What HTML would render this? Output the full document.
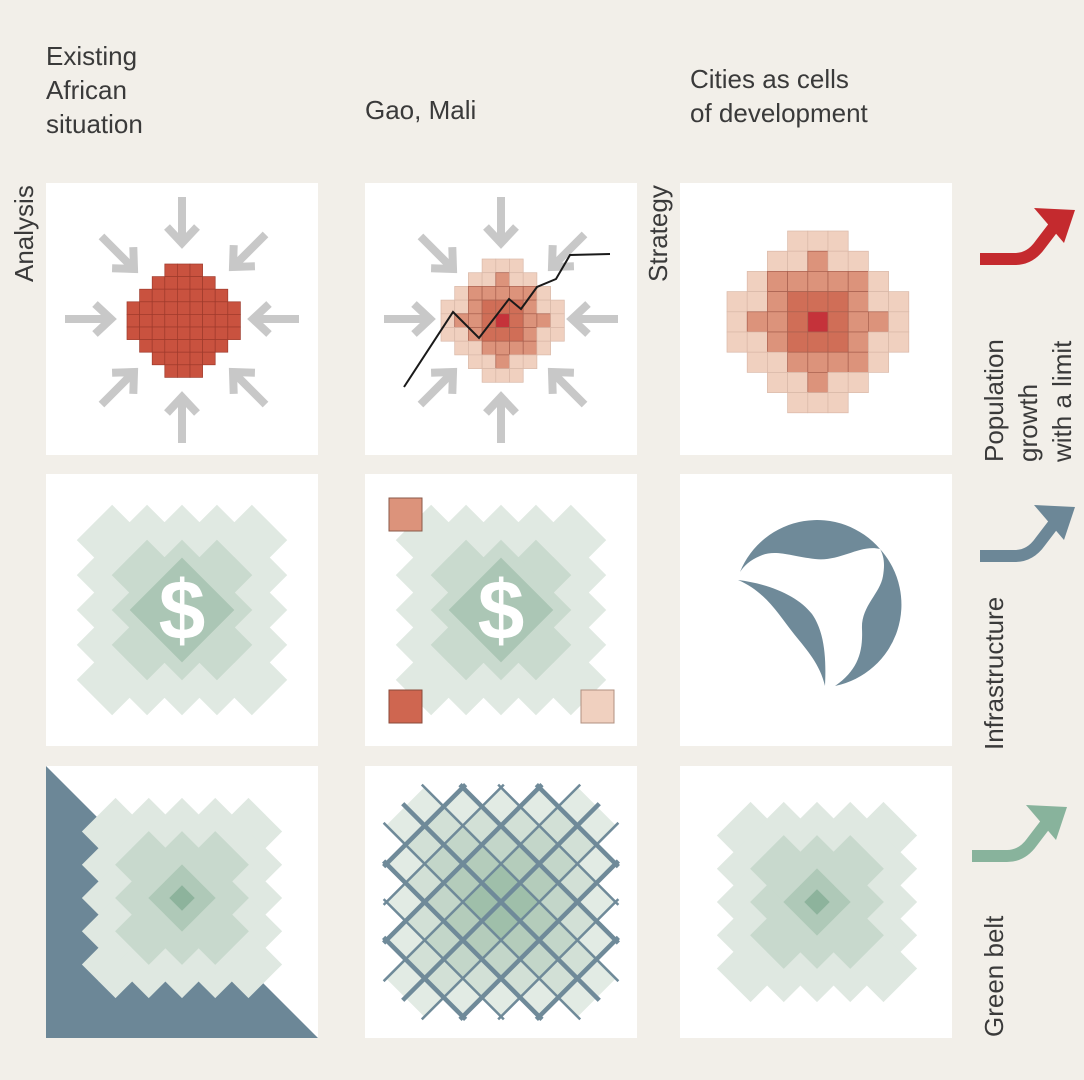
<!DOCTYPE html>
<html><head><meta charset="utf-8"><style>
html,body{margin:0;padding:0;background:#f2efe9;}
svg{display:block}
text{font-family:"Liberation Sans",sans-serif;fill:#3a3a3a;font-weight:300}
</style></head><body>
<svg id="s" width="1084" height="1080" viewBox="0 0 1084 1080" xmlns="http://www.w3.org/2000/svg">
<rect width="1084" height="1080" fill="#f2efe9"/>
<g font-size="26">
<text x="46" y="65">Existing</text>
<text x="46" y="99">African</text>
<text x="46" y="133">situation</text>
<text x="365" y="119">Gao, Mali</text>
<text x="690" y="88">Cities as cells</text>
<text x="690" y="122">of development</text>
<text transform="translate(33,282) rotate(-90)">Analysis</text>
<text transform="translate(667,282) rotate(-90)">Strategy</text>
<text transform="translate(1003,462) rotate(-90)">Population</text>
<text transform="translate(1037,462) rotate(-90)">growth</text>
<text transform="translate(1071,462) rotate(-90)">with a limit</text>
<text transform="translate(1003,750) rotate(-90)">Infrastructure</text>
<text transform="translate(1003,1037) rotate(-90)">Green belt</text>
</g>
<g fill="none" stroke-width="12">
<path d="M980,259 L1015,259 Q1030,259 1040,245 L1056,224" stroke="#c42a2e"/>
<path d="M1034,208 L1075,210 L1064,243 Z" fill="#c42a2e" stroke="none"/>
<path d="M980,556 L1015,556 Q1030,556 1040,542 L1056,521" stroke="#6c8797"/>
<path d="M1034,505 L1075,507 L1064,540 Z" fill="#6c8797" stroke="none"/>
<path d="M972,856 L1007,856 Q1022,856 1032,842 L1048,821" stroke="#88b39c"/>
<path d="M1026,805 L1067,807 L1056,840 Z" fill="#88b39c" stroke="none"/>
</g>
<g id="panels"></g>
</svg>
<script>
var NS="http://www.w3.org/2000/svg";
var P=document.getElementById('panels');
function el(t,a,p){var e=document.createElementNS(NS,t);for(var k in a)e.setAttribute(k,a[k]);(p||P).appendChild(e);return e;}
var px=[46,365,680], py=[183,474,766];
var G={};
for(var r=0;r<3;r++)for(var c=0;c<3;c++){
  el('rect',{x:px[c],y:py[r],width:272,height:272,fill:'#fff'});
  G[r+''+c]=el('g',{transform:'translate('+px[c]+','+py[r]+')'});
}
function arrows(g){
  var A=[[136,60,90],[136,214,-90],[65,136,0],[207,136,180],[88,86,45],[187,84,135],[88,189,-45],[187,189,-135]];
  A.forEach(function(a){el('path',{d:'M-46,0 L-2,0 M-16,-15 L0,0 L-16,15',stroke:'#c8c8c8','stroke-width':8,fill:'none',transform:'translate('+a[0]+','+a[1]+') rotate('+a[2]+')'},g);});
}
var rows=['...LLL...','..LLMLL..','.LMMMMML.','LLMDDDMLL','LMMDRDMML','LLMDDDMLL','.LLMMMML.','..LLMLL..','...LLL...'];
var col={L:'#f0d0bf',M:'#dc937b',D:'#d06e57',R:'#c5323a'};
function grid(g,x0,y0,s,mono){
  for(var i=0;i<9;i++)for(var j=0;j<9;j++){var ch=rows[i][j];if(ch=='.')continue;
    el('rect',{x:x0+j*s,y:y0+i*s,width:s,height:s,fill:mono?'#c9523f':col[ch],stroke:mono?'#9e3a2c':(ch=='L'?'#d9b8a8':'#a8604f'),'stroke-width':0.7},g);}
}
function green(g,cx,cy,c,layers,inner){
  var gg=el('g',{transform:'translate('+cx+','+cy+') rotate(45)'},g);
  layers.forEach(function(L){
    for(var i=-7;i<7;i++)for(var j=-7;j<7;j++){
      if(Math.abs(i+.5)+Math.abs(j+.5)<=L[0]) el('rect',{x:i*c-0.3,y:j*c-0.3,width:c+0.6,height:c+0.6,fill:L[1]},gg);
    }
  });
  if(inner) el('rect',{x:-inner[0],y:-inner[0],width:2*inner[0],height:2*inner[0],fill:inner[1]},gg);
  return gg;
}
arrows(G['00']); grid(G['00'],81,81,12.6,true);
arrows(G['01']); grid(G['01'],76,76,13.7,false);
el('polyline',{points:'39,204 88,129 114,155 144,116 156,126 172,104 191,96 205,72 245,71',fill:'none',stroke:'#1a1a1a','stroke-width':2},G['01']);
grid(G['02'],47,48,20.2,false);
var Lg=[[5,'#e0e9e2'],[3,'#c9dace']];
green(G['10'],136,136,24.7,Lg,[37,'#abc6b5']);
el('text',{x:136,y:165,'text-anchor':'middle','font-size':84,style:'fill:#fff;font-weight:bold'},G['10']).textContent='$';
green(G['11'],136,136,24.7,Lg,[37,'#abc6b5']);
el('text',{x:136,y:165,'text-anchor':'middle','font-size':84,style:'fill:#fff;font-weight:bold'},G['11']).textContent='$';
el('rect',{x:24,y:24,width:33,height:33,fill:'#dc937b',stroke:'#8a5a4a','stroke-width':1},G['11']);
el('rect',{x:24,y:216,width:33,height:33,fill:'#cf6650',stroke:'#8a4a3a','stroke-width':1},G['11']);
el('rect',{x:216,y:216,width:33,height:33,fill:'#f0d0bf',stroke:'#b09080','stroke-width':1},G['11']);
var cg=G['12'];
el('path',{d:'M60,98 A83,83 0 0 1 200,75 C180,70 160,88 135,85 C110,82 95,75 80,82 C70,86 64,92 60,98 Z',fill:'#6f8a99'},cg);
el('path',{d:'M200,75 A83,83 0 0 1 155,212 C178,196 183,178 182,155 C181,132 200,120 203,102 C205,90 204,82 200,75 Z',fill:'#6f8a99'},cg);
el('path',{d:'M58,106 C90,110 118,122 132,140 C146,160 146,190 145,212 C140,190 126,175 114,160 C98,140 86,118 58,106 Z',fill:'#6f8a99'},cg);
el('path',{d:'M0,0 L0,272 L272,272 Z',fill:'#6c8797'},G['20']);
var Lg2=[[5,'#dfe8e1'],[3,'#c8d9cd'],[1,'#afc9b8']];
green(G['20'],136,132,23.5,Lg2,[9,'#8db39c']);
green(G['22'],137,136,23.5,Lg2,[9,'#8db39c']);
var cc=27;
var m=green(G['21'],136,136,cc,[[5,'#e2ebe4'],[4,'#d2e0d6'],[3,'#c3d6c9'],[2,'#b4ccbb'],[1,'#9fbfaa']]);
for(var k=-4;k<=4;k++){
  var w=(k%2==0)?4.5:2.5;
  var h=(k==0?5:(6-Math.abs(k)))*cc+4;
  el('line',{x1:k*cc,y1:-h,x2:k*cc,y2:h,stroke:'#6f8a99','stroke-width':w},m);
  el('line',{y1:k*cc,x1:-h,y2:k*cc,x2:h,stroke:'#6f8a99','stroke-width':w},m);
}
</script>
</body></html>
